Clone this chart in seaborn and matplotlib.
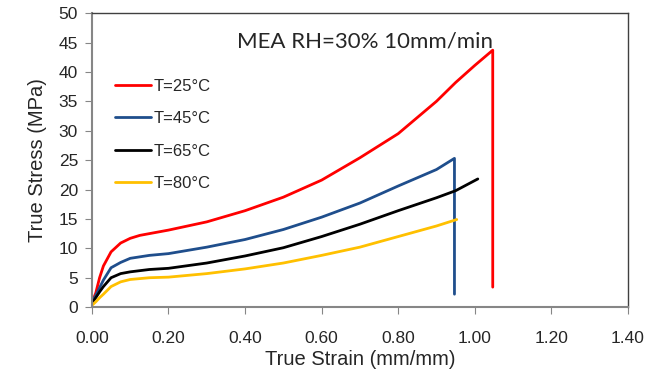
import numpy as np
import pandas as pd
import matplotlib
matplotlib.use("Agg")
import matplotlib.pyplot as plt
import seaborn as sns

# data (strain mm/mm, stress MPa)
strain_25 = [0.0, 0.01, 0.02, 0.03, 0.05, 0.075, 0.10, 0.125, 0.15, 0.20, 0.30, 0.40, 0.50,
             0.60, 0.70, 0.80, 0.90, 0.95, 1.00, 1.047, 1.047]
stress_25 = [0.8, 2.4, 5.0, 7.0, 9.4, 10.9, 11.7, 12.2, 12.5, 13.1, 14.5, 16.4, 18.7,
             21.6, 25.4, 29.5, 35.0, 38.2, 41.1, 43.7, 3.4]

strain_45 = [0.0, 0.01, 0.02, 0.03, 0.05, 0.075, 0.10, 0.15, 0.20, 0.30, 0.40, 0.50,
             0.60, 0.70, 0.80, 0.90, 0.947, 0.947]
stress_45 = [0.8, 2.0, 3.3, 4.6, 6.7, 7.6, 8.3, 8.8, 9.1, 10.2, 11.5, 13.2,
             15.3, 17.7, 20.6, 23.4, 25.3, 2.2]

strain_65 = [0.0, 0.01, 0.02, 0.03, 0.05, 0.075, 0.10, 0.15, 0.20, 0.30, 0.40, 0.50,
             0.60, 0.70, 0.80, 0.90, 0.95, 1.008]
stress_65 = [0.6, 1.6, 2.6, 3.5, 5.0, 5.7, 6.0, 6.4, 6.6, 7.5, 8.7, 10.1,
             12.0, 14.1, 16.4, 18.6, 19.8, 21.8]

strain_80 = [0.0, 0.01, 0.02, 0.03, 0.05, 0.075, 0.10, 0.15, 0.20, 0.30, 0.40, 0.50,
             0.60, 0.70, 0.80, 0.90, 0.953]
stress_80 = [0.3, 0.9, 1.6, 2.2, 3.5, 4.3, 4.7, 5.0, 5.1, 5.7, 6.5, 7.5,
             8.8, 10.2, 12.0, 13.8, 14.9]

labels = ["T=25°C", "T=45°C", "T=65°C", "T=80°C"]
colors = ["#ff0000", "#1f4e8c", "#000000", "#ffc000"]

frames = []
for lab, xs, ys in zip(labels,
                       [strain_25, strain_45, strain_65, strain_80],
                       [stress_25, stress_45, stress_65, stress_80]):
    d = pd.DataFrame({"strain": xs, "stress": ys})
    d["series"] = lab
    frames.append(d)
df = pd.concat(frames, ignore_index=True)

sns.set_style("white")
plt.rcParams["font.family"] = ["Liberation Sans", "DejaVu Sans"]

fig = plt.figure(figsize=(6.52, 3.75), dpi=100)
ax = fig.add_axes([0.141, 0.181, 0.822, 0.784])

sns.lineplot(data=df, x="strain", y="stress", hue="series", hue_order=labels,
             palette=colors, sort=False, estimator=None, units="series",
             linewidth=2, ax=ax)

ax.set_xlim(0, 1.4)
ax.set_ylim(0, 50)
ax.set_xticks(np.arange(0, 1.41, 0.2))
ax.set_xticklabels([f"{v:.2f}" for v in np.arange(0, 1.41, 0.2)])
ax.set_yticks(range(0, 51, 5))
ax.tick_params(axis="both", labelsize=12.5, direction="out", length=5,
               color="#868686", bottom=True, left=True, pad=5)
ax.tick_params(axis="x", pad=12)
for s in ["left", "bottom"]:
    ax.spines[s].set_color("#868686")
    ax.spines[s].set_linewidth(1.5)
for s in ["top", "right"]:
    ax.spines[s].set_color("#404040")
    ax.spines[s].set_linewidth(1)

ax.set_xlabel("True Strain (mm/mm)", fontsize=14.5, labelpad=3)
ax.set_ylabel("True Stress (MPa)", fontsize=14.5, labelpad=8)

ax.text(0.51, 0.905, "MEA RH=30% 10mm/min", transform=ax.transAxes,
        ha="center", va="center", fontsize=16, family=["Lato", "DejaVu Sans"])

leg = ax.legend(loc="upper left", bbox_to_anchor=(0.03, 0.80), frameon=False,
                fontsize=12, handlelength=2.2, handletextpad=0.15,
                labelspacing=1.05, borderaxespad=0)

fig.savefig("out.png", dpi=100)
